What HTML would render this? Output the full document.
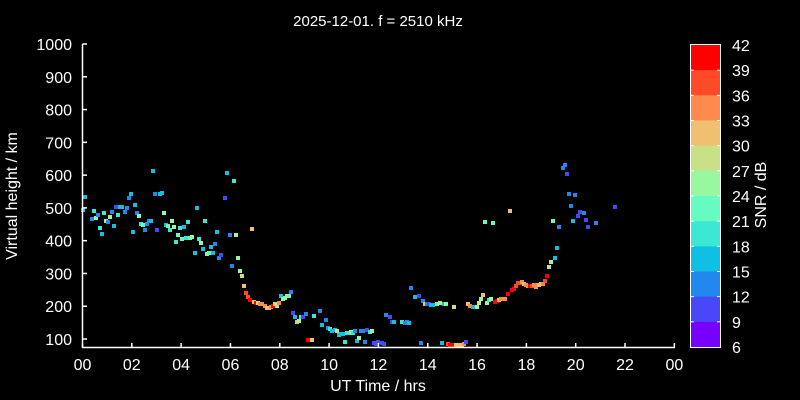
<!DOCTYPE html>
<html><head><meta charset="utf-8"><style>
html,body{margin:0;padding:0;background:#000;}
svg{display:block;}
text{font-family:"Liberation Sans",sans-serif;fill:#fff;}
</style></head><body>
<svg id="s" width="800" height="400" viewBox="0 0 800 400" xmlns="http://www.w3.org/2000/svg">
<rect width="800" height="400" fill="#000"/>
<text x="378" y="26" font-size="15" text-anchor="middle">2025-12-01. f = 2510 kHz</text>
<g id="pts"></g>
<g id="ax" stroke="#fff" stroke-width="1.5" fill="none">
<line x1="82.5" y1="44" x2="82.5" y2="347.5"/>
<line x1="82" y1="347.5" x2="675" y2="347.5"/>
</g>
<g id="lbl" font-size="16"></g>
<text x="378" y="391" font-size="16" text-anchor="middle">UT Time / hrs</text>
<text transform="translate(17,196) rotate(-90)" font-size="16" text-anchor="middle">Virtual height / km</text>
<g id="cb"></g>
<text transform="translate(766,195) rotate(-90)" font-size="16" text-anchor="middle">SNR / dB</text>
</svg>
<script>
var NS="http://www.w3.org/2000/svg";
function el(p,t,a,txt){var e=document.createElementNS(NS,t);for(var k in a)e.setAttribute(k,a[k]);if(txt!==undefined)e.textContent=txt;document.getElementById(p).appendChild(e);return e;}
for(var h=0;h<=24;h+=2){var x=82.5+h*24.66;
 el("ax","line",{x1:x,y1:347.5,x2:x,y2:343});
 var l=(h%24<10?"0":"")+(h%24);
 el("lbl","text",{x:x,y:370,"text-anchor":"middle"},l);}
for(var v=100;v<=1000;v+=100){var y=44+(1000-v)*0.3278;
 el("ax","line",{x1:82.5,y1:y,x2:87,y2:y});
 el("lbl","text",{x:72,y:y+6,"text-anchor":"end"},v);}
var cols=["#ff0000","#ff4a2a","#ff8a4e","#f0c070","#c8e088","#98f8a0","#64fcc0","#3ae8d4","#10c0e4","#2288f0","#4848f8","#7800ff"];
var cbTop=45,bh=(347-45)/12;
for(var i=0;i<12;i++){el("cb","rect",{x:691,y:cbTop+i*bh,width:29,height:bh+0.5,fill:cols[i]});}
el("cb","rect",{x:690.5,y:44.5,width:30,height:303,fill:"none",stroke:"#fff","stroke-width":1});
for(var i=0;i<=12;i++){var y=cbTop+i*bh;
 if(i>0&&i<12){el("cb","line",{x1:691,y1:y,x2:694,y2:y,stroke:"#fff"});el("cb","line",{x1:717,y1:y,x2:720,y2:y,stroke:"#fff"});}
 el("cb","text",{x:732,y:y+6,"font-size":"16"},42-3*i);}
var C={P:"#7800ff",U:"#4848f8",B:"#2288f0",C:"#10c0e4",T:"#3ae8d4",G:"#64fcc0",L:"#98f8a0",Y:"#c8e088",O:"#f0c070",o:"#ff8a4e",r:"#ff4a2a",R:"#ff0000"};
var d="85,197,C;83,210,C;94,211,T;92,219,B;96,218,L;98,215,B;104,213,T;100,228,T;102,234,C;106,221,Y;108,222,B;110,217,L;112,212,B;114,226,C;116,207,U;120,207,C;122,207,C;118,215,T;125,212,B;127,208,B;129,198,B;131,194,C;135,205,C;137,213,B;139,216,L;133,232,C;141,224,T;143,225,G;145,230,B;147,224,B;149,221,B;151,221,C;153,171,C;155,194,B;160,194,C;162,193,C;157,230,U;164,213,L;166,225,C;168,226,G;170,230,T;172,221,L;174,227,L;176,242,T;178,235,G;180,228,T;182,239,G;184,227,C;186,238,T;188,222,T;190,238,G;192,237,L;195,253,C;197,208,C;199,239,T;201,243,L;203,249,C;205,221,T;207,254,L;209,253,G;211,247,C;213,253,C;215,244,B;217,232,C;219,258,B;221,255,U;225,198,U;227,173,C;230,235,B;234,181,T;236,235,L;238,258,L;232,266,B;240,271,L;242,276,Y;244,286,O;246,293,r;248,297,r;250,300,R;252,229,O;254,302,O;256,303,R;258,303,Y;260,304,o;262,304,o;265,306,o;267,308,O;269,308,O;271,307,o;273,306,R;275,304,Y;277,306,Y;279,303,o;281,296,C;283,299,L;285,298,L;287,296,L;289,296,G;291,292,B;293,313,U;295,317,C;297,322,O;299,321,L;301,317,T;303,317,U;306,314,B;308,340,R;310,340,R;312,340,O;314,316,T;320,311,B;322,325,C;326,320,B;328,328,B;330,329,T;332,331,C;335,330,C;337,331,Y;339,335,C;341,334,C;343,334,C;345,342,T;347,333,T;349,333,T;351,332,L;353,333,T;355,331,B;357,341,C;359,338,L;361,331,B;363,331,B;365,342,B;367,330,U;370,332,T;372,331,L;374,343,U;376,344,U;378,342,U;382,343,U;384,344,U;386,315,B;390,317,U;392,322,U;394,322,C;402,322,T;405,323,B;407,322,B;409,323,C;411,288,B;415,297,C;419,296,U;421,343,B;423,301,B;425,304,O;427,304,B;429,304,U;431,305,C;433,305,C;437,304,G;440,303,Y;442,343,C;444,304,C;446,304,L;448,344,r;450,345,R;452,345,R;454,307,Y;456,345,O;458,345,O;460,345,O;462,345,O;464,344,o;466,342,U;468,304,O;470,306,o;473,307,C;477,307,L;479,303,Y;481,299,L;483,295,O;485,222,G;487,303,L;489,300,T;491,299,L;493,223,G;495,302,R;497,301,R;499,300,O;501,299,o;503,299,o;505,299,o;508,294,R;510,211,O;512,290,R;514,289,R;516,286,r;518,283,r;520,283,r;522,282,o;524,284,O;526,285,o;528,286,o;530,286,R;532,286,r;534,285,o;536,287,o;537,285,o;539,285,O;541,284,O;543,284,o;545,281,r;547,276,R;549,267,Y;551,262,L;553,221,G;555,258,C;557,248,C;559,227,B;563,168,B;565,165,B;567,174,U;569,194,B;571,206,B;573,221,C;575,195,B;578,216,U;580,212,U;584,213,B;586,220,U;588,227,U;596,223,B;615,207,U";
d.split(";").forEach(function(s){var a=s.split(",");el("pts","rect",{x:+a[0]-2,y:+a[1]-2,width:4,height:4,fill:C[a[2]]});});
</script>
</body></html>
